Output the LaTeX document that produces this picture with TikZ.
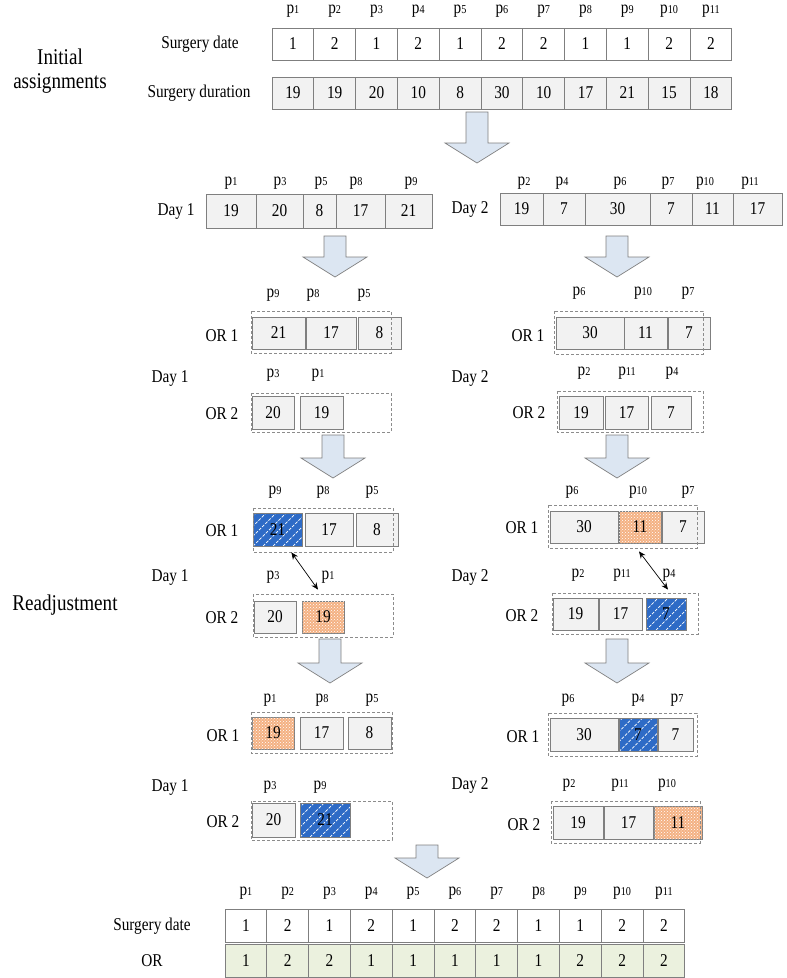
\documentclass[tikz,border=0pt]{standalone}
\usepackage{fontspec}
\setmainfont{Liberation Serif}[FakeStretch=0.85]
\usetikzlibrary{arrows.meta,patterns}

\definecolor{cellgray}{HTML}{F2F2F2}
\definecolor{edgegray}{HTML}{7F7F7F}
\definecolor{dashgray}{HTML}{8C8C8C}
\definecolor{orgreen}{HTML}{EBF1DE}
\definecolor{hatchblue}{HTML}{2E6BC6}
\definecolor{dotorange}{HTML}{F4B183}
\definecolor{arrowblue}{HTML}{DCE6F2}

% 病人编号
\newcommand{\pid}[1]{p{\fontsize{12}{12}\selectfont #1}}
% 单元格: 名称, 样式, 左, 右, 中心y, 高, 数值
\newcommand{\slotcell}[7]{\node[#2, minimum width={#4-#3}, minimum height=#6] (#1) at ({(#3+#4)/2},#5) {#7};}
% 空心箭头: 中心x, 顶端y, 箭身长
\newcommand{\fatarrow}[3]{\draw[arrowbox] (#1-11,#2) -- (#1+11,#2) -- (#1+11,#2+#3) -- (#1+32,#2+#3) -- (#1,#2+#3+20) -- (#1-32,#2+#3) -- (#1-11,#2+#3) -- cycle;}

\begin{document}
\begin{tikzpicture}[x=1pt, y=-1pt, >=Stealth,
    lab/.style={font=\fontsize{18}{21}\selectfont, inner sep=0},
    big/.style={font=\fontsize{22.5}{24}\selectfont, align=center, inner sep=0},
    cell/.style={draw=edgegray, fill=cellgray, line width=0.8pt, inner sep=0, font=\fontsize{18}{21}\selectfont},
    datecell/.style={cell, fill=white},
    orcell/.style={cell, fill=orgreen},
    bluecell/.style={cell, fill=hatchblue, path picture={
        \foreach \k in {-40,-30,...,50}
            \draw[white, line width=0.7pt, dash pattern=on 3pt off 1.5pt]
                ([xshift=\k pt]path picture bounding box.south west) -- ++(45:70pt);}},
    orangecell/.style={cell, fill=dotorange, postaction={pattern=crosshatch dots, pattern color=white}},
    slotbox/.style={draw=dashgray, line width=0.6pt, dash pattern=on 3pt off 2pt},
    arrowbox/.style={draw=edgegray, fill=arrowblue, line width=0.7pt},
    swap/.style={{Stealth[length=7pt,width=6pt]}-{Stealth[length=7pt,width=6pt]}, line width=0.7pt}]
    \useasboundingbox (0,0) rectangle (787,978);

    % 初始分配表
    \node[big] (init) at (60,71) {Initial\\assignments};
    \node[lab] (tdate) at (200,44) {Surgery date};
    \node[lab] (tdur) at (199,93) {Surgery duration};
    \foreach \v [count=\i] in {1,2,1,2,1,2,2,1,1,2,2} {
        \node[lab] (tp\i) at ({272+41.8*(\i-0.5)},11) {\pid{\i}};
        \node[datecell, minimum width=41.8, minimum height=32] (td\i) at ({272+41.8*(\i-0.5)},44) {\v};
    }
    \foreach \v [count=\i] in {19,19,20,10,8,30,10,17,21,15,18}
        \node[cell, minimum width=41.8, minimum height=32] (tu\i) at ({272+41.8*(\i-0.5)},93) {\v};

    \fatarrow{477}{112}{31}

    % 按日期分组
    \node[lab] (s1d1) at (176,211) {Day 1};
    \slotcell{s1p1}{cell}{206}{256}{211}{34}{19}
    \slotcell{s1p3}{cell}{256}{303}{211}{34}{20}
    \slotcell{s1p5}{cell}{303}{336}{211}{34}{8}
    \slotcell{s1p8}{cell}{336}{385}{211}{34}{17}
    \slotcell{s1p9}{cell}{385}{432}{211}{34}{21}
    \node[lab] (s1l1) at (231,183) {\pid{1}};
    \node[lab] (s1l3) at (280,183) {\pid{3}};
    \node[lab] (s1l5) at (321,183) {\pid{5}};
    \node[lab] (s1l8) at (356,183) {\pid{8}};
    \node[lab] (s1l9) at (411,183) {\pid{9}};

    \node[lab] (s1d2) at (470,209) {Day 2};
    \slotcell{s1p2}{cell}{500}{543}{209}{32}{19}
    \slotcell{s1p4}{cell}{543}{585}{209}{32}{7}
    \slotcell{s1p6}{cell}{585}{650}{209}{32}{30}
    \slotcell{s1p7}{cell}{650}{692}{209}{32}{7}
    \slotcell{s1p10}{cell}{692}{733}{209}{32}{11}
    \slotcell{s1p11}{cell}{733}{782}{209}{32}{17}
    \node[lab] (s1l2) at (524,183) {\pid{2}};
    \node[lab] (s1l4) at (562,183) {\pid{4}};
    \node[lab] (s1l6) at (620,183) {\pid{6}};
    \node[lab] (s1l7) at (668,183) {\pid{7}};
    \node[lab] (s1l10) at (705,183) {\pid{10}};
    \node[lab] (s1l11) at (750,183) {\pid{11}};

    \fatarrow{335}{236}{21}
    \fatarrow{617}{236}{21}

    % 第一次手术室分配
    \node[lab] (s2d1) at (170,378) {Day 1};
    \node[lab] (s2a1) at (222,336) {OR 1};
    \slotcell{s2p9}{cell}{252}{305}{333}{32}{21}
    \slotcell{s2p8}{cell}{306}{356}{333}{32}{17}
    \slotcell{s2p5}{cell}{358}{401}{333}{32}{8}
    \draw[slotbox] (251,311) rectangle (391,353);
    \node[lab] (s2l9) at (273,295) {\pid{9}};
    \node[lab] (s2l8) at (313,295) {\pid{8}};
    \node[lab] (s2l5) at (364,295) {\pid{5}};
    \node[lab] (s2a2) at (222,414) {OR 2};
    \slotcell{s2p3}{cell}{252}{294}{413}{33}{20}
    \slotcell{s2p1}{cell}{300}{343}{413}{33}{19}
    \draw[slotbox] (251,393) rectangle (391,432);
    \node[lab] (s2l3) at (273,375) {\pid{3}};
    \node[lab] (s2l1) at (318,375) {\pid{1}};

    \node[lab] (s2d2) at (470,378) {Day 2};
    \node[lab] (s2b1) at (528,336) {OR 1};
    \slotcell{s2p6}{cell}{556}{624}{333}{32}{30}
    \slotcell{s2p10}{cell}{624}{667}{333}{32}{11}
    \slotcell{s2p7}{cell}{668}{710}{333}{32}{7}
    \draw[slotbox] (554,311) rectangle (703,354);
    \node[lab] (s2l6) at (579,293) {\pid{6}};
    \node[lab] (s2l10) at (643,293) {\pid{10}};
    \node[lab] (s2l7) at (688,293) {\pid{7}};
    \node[lab] (s2b2) at (529,413) {OR 2};
    \slotcell{s2p2}{cell}{559}{603}{413}{33}{19}
    \slotcell{s2p11}{cell}{605}{648}{413}{33}{17}
    \slotcell{s2p4}{cell}{651}{691}{413}{33}{7}
    \draw[slotbox] (557,391) rectangle (703,432);
    \node[lab] (s2l2) at (584,373) {\pid{2}};
    \node[lab] (s2l11) at (627,373) {\pid{11}};
    \node[lab] (s2l4) at (672,373) {\pid{4}};

    \fatarrow{333}{435}{23}
    \fatarrow{617}{435}{23}

    % 调整: 交换手术
    \node[big] (readj) at (65,605) {Readjustment};
    \node[lab] (s3d1) at (170,577) {Day 1};
    \node[lab] (s3a1) at (222,531) {OR 1};
    \slotcell{s3p9}{bluecell}{253}{302}{529.5}{33}{21}
    \slotcell{s3p8}{cell}{305}{353}{529.5}{33}{17}
    \slotcell{s3p5}{cell}{356}{398}{529.5}{33}{8}
    \draw[slotbox] (253,508) rectangle (393,552);
    \node[lab] (s3l9) at (275,492) {\pid{9}};
    \node[lab] (s3l8) at (323,492) {\pid{8}};
    \node[lab] (s3l5) at (372,492) {\pid{5}};
    \node[lab] (s3a2) at (222,618) {OR 2};
    \slotcell{s3p3}{cell}{254}{296}{617}{32}{20}
    \slotcell{s3p1}{orangecell}{302}{344}{617}{32}{19}
    \draw[slotbox] (253,594) rectangle (393,637);
    \node[lab] (s3l3) at (273,577) {\pid{3}};
    \node[lab] (s3l1) at (328,577) {\pid{1}};
    \draw[swap] ([xshift=-11pt,yshift=-6pt]s3p9.south east) -- ([xshift=-5pt,yshift=11pt]s3p1.north);

    \node[lab] (s3d2) at (470,577) {Day 2};
    \node[lab] (s3b1) at (522,528) {OR 1};
    \slotcell{s3p6}{cell}{550}{618}{527}{32}{30}
    \slotcell{s3p10}{orangecell}{619}{661}{527}{32}{11}
    \slotcell{s3p7}{cell}{662}{704}{527}{32}{7}
    \draw[slotbox] (548,505) rectangle (697,548);
    \node[lab] (s3l6) at (572,492) {\pid{6}};
    \node[lab] (s3l10) at (638,492) {\pid{10}};
    \node[lab] (s3l7) at (688,492) {\pid{7}};
    \node[lab] (s3b2) at (522,616) {OR 2};
    \slotcell{s3p2}{cell}{553}{598}{614}{32}{19}
    \slotcell{s3p11}{cell}{599}{642}{614}{32}{17}
    \slotcell{s3p4}{bluecell}{646}{686}{614}{32}{7}
    \draw[slotbox] (552,593) rectangle (698,634);
    \node[lab] (s3l2) at (578,575) {\pid{2}};
    \node[lab] (s3l11) at (622,575) {\pid{11}};
    \node[lab] (s3l4) at (669,575) {\pid{4}};
    \draw[swap] ([xshift=-1pt,yshift=-8pt]s3p10.south) -- ([xshift=2pt,yshift=8pt]s3p4.north);

    \fatarrow{330}{639}{24}
    \fatarrow{617}{639}{24}

    % 调整后
    \node[lab] (s4d1) at (170,787) {Day 1};
    \node[lab] (s4a1) at (223,736) {OR 1};
    \slotcell{s4p1}{orangecell}{252}{294}{733}{32}{19}
    \slotcell{s4p8}{cell}{300}{343}{733}{32}{17}
    \slotcell{s4p5}{cell}{348}{391}{733}{32}{8}
    \draw[slotbox] (251,712) rectangle (392,753);
    \node[lab] (s4l1) at (270,700) {\pid{1}};
    \node[lab] (s4l8) at (322,700) {\pid{8}};
    \node[lab] (s4l5) at (372,700) {\pid{5}};
    \node[lab] (s4a2) at (223,822) {OR 2};
    \slotcell{s4p3}{cell}{252}{295}{820}{34}{20}
    \slotcell{s4p9}{bluecell}{300}{350}{820}{34}{21}
    \draw[slotbox] (251,801) rectangle (392,840);
    \node[lab] (s4l3) at (270,787) {\pid{3}};
    \node[lab] (s4l9) at (320,787) {\pid{9}};

    \node[lab] (s4d2) at (470,785) {Day 2};
    \node[lab] (s4b1) at (523,737) {OR 1};
    \slotcell{s4p6}{cell}{550}{618}{735}{33}{30}
    \slotcell{s4p4}{bluecell}{619}{657}{735}{33}{7}
    \slotcell{s4p7}{cell}{658}{693}{735}{33}{7}
    \draw[slotbox] (548,713) rectangle (697,756);
    \node[lab] (s4l6) at (568,700) {\pid{6}};
    \node[lab] (s4l4) at (638,700) {\pid{4}};
    \node[lab] (s4l7) at (677,700) {\pid{7}};
    \node[lab] (s4b2) at (524,825) {OR 2};
    \slotcell{s4p2}{cell}{553}{603}{823}{33}{19}
    \slotcell{s4p11}{cell}{604}{653}{823}{33}{17}
    \slotcell{s4p10}{orangecell}{654}{702}{823}{33}{11}
    \draw[slotbox] (551,801) rectangle (700,843);
    \node[lab] (s4l2) at (569,785) {\pid{2}};
    \node[lab] (s4l11) at (620,785) {\pid{11}};
    \node[lab] (s4l10) at (667,785) {\pid{10}};

    \fatarrow{427}{845}{13}

    % 最终结果表
    \node[lab] (fdate) at (152,926) {Surgery date};
    \node[lab] (fror) at (152,961) {OR};
    \foreach \v [count=\i] in {1,2,1,2,1,2,2,1,1,2,2} {
        \node[lab] (fp\i) at ({225+41.8*(\i-0.5)},893) {\pid{\i}};
        \node[datecell, minimum width=41.8, minimum height=33] (fd\i) at ({225+41.8*(\i-0.5)},925.5) {\v};
    }
    \foreach \v [count=\i] in {1,2,2,1,1,1,1,1,2,2,2}
        \node[orcell, minimum width=41.8, minimum height=33] (fo\i) at ({225+41.8*(\i-0.5)},960.5) {\v};
\end{tikzpicture}
\end{document}
